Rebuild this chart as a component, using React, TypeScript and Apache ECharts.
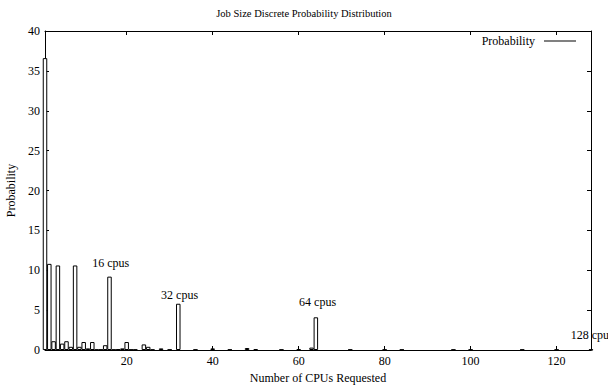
import React, { useEffect, useRef } from "react";
import * as echarts from "echarts";

const cpus = [1, 2, 3, 4, 5, 6, 7, 8, 9, 10, 11, 12, 13, 14, 15, 16, 17, 18, 19, 20, 21, 22, 24, 25, 26, 28, 30, 32, 36, 40, 44, 48, 50, 56, 60, 63, 64, 72, 80, 84, 96, 100, 112, 120, 128];
const probability = [36.6, 10.8, 1.1, 10.6, 0.8, 1.1, 0.4, 10.6, 0.4, 1.0, 0.2, 1.0, 0.05, 0.05, 0.6, 9.2, 0.05, 0.1, 0.2, 1.0, 0.05, 0.05, 0.7, 0.4, 0.05, 0.2, 0.05, 5.8, 0.05, 0.2, 0.05, 0.25, 0.1, 0.05, 0.1, 0.3, 4.1, 0.05, 0.05, 0.05, 0.05, 0.05, 0.05, 0.05, 0.05];

const xTicks = [20, 40, 60, 80, 100, 120];

const annotationX = [16.3, 32.3, 64.4, 128.3];
const annotationY = [10.9, 6.9, 6.0, 1.9];
const annotationText = ["16 cpus", "32 cpus", "64 cpus", "128 cpus"];

const FONT = "Liberation Serif";

export default function App() {
  const ref = useRef<HTMLDivElement>(null);
  useEffect(() => {
    document.body.style.margin = "0";
    if (!ref.current) return;
    const chart = echarts.init(ref.current, undefined, { renderer: "svg" });
    const tickCommon = { inside: true, length: 4, lineStyle: { color: "#000", width: 1 } };
    const labelStyle = { fontFamily: FONT, fontSize: 12, color: "#000", textBorderWidth: 0, opacity: 1 };
    const option: any = {
      animation: false,
      backgroundColor: "#fff",
      textStyle: { fontFamily: FONT, color: "#000" },
      title: {
        text: "Job Size Discrete Probability Distribution",
        left: "center",
        top: 3,
        textStyle: { fontFamily: FONT, fontSize: 10.5, fontWeight: "normal", color: "#000" },
      },
      legend: {
        right: 27,
        top: 30,
        align: "right",
        icon: "rect",
        itemWidth: 32,
        itemHeight: 1,
        textStyle: { fontFamily: FONT, fontSize: 12, color: "#000", padding: [0, 4, 0, 0] },
        data: [{ name: "Probability", itemStyle: { color: "#000", borderWidth: 0 } }],
      },
      grid: { left: 45, right: 17, top: 31, bottom: 35, outerBoundsMode: "none", containLabel: false },
      xAxis: [
        {
          type: "value",
          min: 1,
          max: 128,
          name: "Number of CPUs Requested",
          nameLocation: "middle",
          nameGap: 19,
          nameTextStyle: { fontFamily: FONT, fontSize: 12, color: "#000" },
          axisLine: { show: true, onZero: false, lineStyle: { color: "#000", width: 1 } },
          axisTick: { ...tickCommon, customValues: xTicks },
          axisLabel: { customValues: xTicks, ...labelStyle, margin: 5 },
          splitLine: { show: false },
        },
        {
          type: "value",
          position: "top",
          min: 1,
          max: 128,
          axisLine: { show: true, onZero: false, lineStyle: { color: "#000", width: 1 } },
          axisTick: { ...tickCommon, customValues: xTicks },
          axisLabel: { show: false },
          splitLine: { show: false },
        },
      ],
      yAxis: [
        {
          type: "value",
          min: 0,
          max: 40,
          interval: 5,
          name: "Probability",
          nameLocation: "middle",
          nameGap: 28,
          nameTextStyle: { fontFamily: FONT, fontSize: 12, color: "#000" },
          axisLine: { show: true, onZero: false, lineStyle: { color: "#000", width: 1 } },
          axisTick: { ...tickCommon },
          axisLabel: { ...labelStyle, margin: 5 },
          splitLine: { show: false },
        },
        {
          type: "value",
          position: "right",
          min: 0,
          max: 40,
          interval: 5,
          axisLine: { show: true, onZero: false, lineStyle: { color: "#000", width: 1 } },
          axisTick: { ...tickCommon },
          axisLabel: { show: false },
          splitLine: { show: false },
        },
      ],
      series: [
        {
          name: "Probability",
          type: "bar",
          xAxisIndex: 0,
          yAxisIndex: 0,
          barWidth: 4.5,
          clip: true,
          itemStyle: { color: "#fff", borderColor: "#000", borderWidth: 1 },
          data: cpus.map((c, i) => [c, probability[i]]),
        },
        {
          name: "labels",
          type: "scatter",
          xAxisIndex: 0,
          yAxisIndex: 0,
          symbolSize: 0,
          clip: false,
          silent: true,
          itemStyle: { color: "#000", opacity: 1 },
          label: {
            show: true,
            position: "inside",
            ...labelStyle,
            formatter: (p: any) => annotationText[p.dataIndex],
          },
          data: annotationX.map((x, i) => [x, annotationY[i]]),
        },
      ],
    };
    chart.setOption(option);
    return () => chart.dispose();
  }, []);
  return <div ref={ref} style={{ width: 608, height: 385 }} />;
}
